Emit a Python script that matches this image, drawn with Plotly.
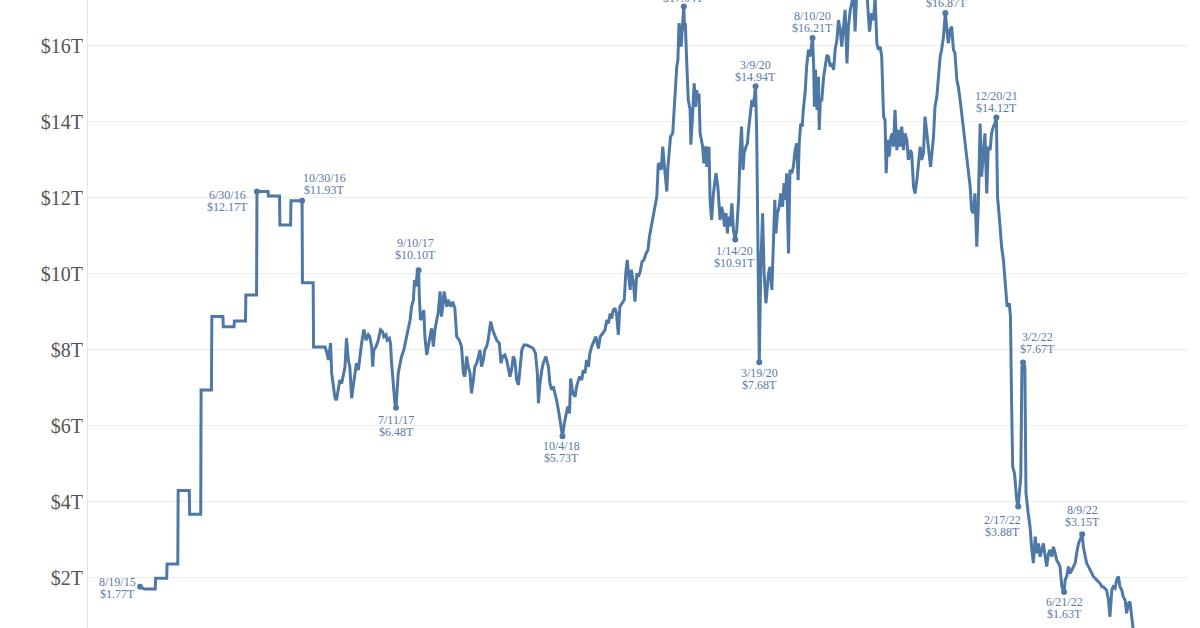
import plotly.graph_objects as go

# ---------------- data (date, value in $ trillions) ----------------
series_2015_16 = [
    ("2015-08-19", 1.77), ("2015-08-31", 1.71), ("2015-09-29", 1.71), ("2015-09-30", 1.99),
    ("2015-10-30", 1.99), ("2015-10-31", 2.37), ("2015-11-29", 2.37), ("2015-11-30", 4.30),
    ("2015-12-30", 4.30), ("2015-12-31", 3.68), ("2016-01-30", 3.68), ("2016-01-31", 6.95),
    ("2016-02-28", 6.95), ("2016-02-29", 8.88), ("2016-03-30", 8.88), ("2016-03-31", 8.61),
    ("2016-04-29", 8.61), ("2016-04-30", 8.76), ("2016-05-30", 8.76), ("2016-05-31", 9.45),
    ("2016-06-29", 9.45), ("2016-06-30", 12.17), ("2016-07-30", 12.17), ("2016-07-31", 12.05),
    ("2016-08-30", 12.05), ("2016-08-31", 11.29), ("2016-09-29", 11.29), ("2016-09-30", 11.93),
    ("2016-10-30", 11.93), ("2016-10-31", 9.77), ("2016-11-29", 9.77), ("2016-11-30", 8.08),
    ("2016-12-31", 8.08),
]

series_2017 = [
    ("2017-01-04", 7.96), ("2017-01-09", 7.74), ("2017-01-15", 8.18), ("2017-01-18", 7.39),
    ("2017-01-22", 7.12), ("2017-01-27", 6.73), ("2017-01-31", 6.68), ("2017-02-05", 7.04),
    ("2017-02-09", 7.21), ("2017-02-14", 7.12), ("2017-02-18", 7.30), ("2017-02-23", 7.56),
    ("2017-02-27", 8.31), ("2017-03-04", 7.74), ("2017-03-08", 7.56), ("2017-03-13", 6.73),
    ("2017-03-17", 7.04), ("2017-03-22", 7.47), ("2017-03-26", 7.65), ("2017-03-31", 7.47),
    ("2017-04-04", 7.83), ("2017-04-09", 8.18), ("2017-04-15", 8.54), ("2017-04-21", 8.26),
    ("2017-04-27", 8.40), ("2017-05-01", 8.35), ("2017-05-06", 8.09), ("2017-05-09", 7.56),
    ("2017-05-12", 8.00), ("2017-05-18", 8.09), ("2017-05-24", 8.26), ("2017-05-30", 8.53),
    ("2017-06-05", 8.48), ("2017-06-08", 8.35), ("2017-06-14", 8.40), ("2017-06-17", 8.26),
    ("2017-06-23", 8.31), ("2017-06-26", 8.18), ("2017-06-29", 7.65), ("2017-07-04", 7.04),
    ("2017-07-08", 6.60), ("2017-07-11", 6.48), ("2017-07-14", 6.86), ("2017-07-17", 7.39),
    ("2017-07-22", 7.65), ("2017-07-26", 7.83), ("2017-08-01", 8.00), ("2017-08-07", 8.26),
    ("2017-08-13", 8.53), ("2017-08-18", 8.79), ("2017-08-22", 9.14), ("2017-08-27", 9.32),
    ("2017-08-30", 9.84), ("2017-09-03", 9.67), ("2017-09-06", 10.02), ("2017-09-10", 10.10),
    ("2017-09-12", 9.40), ("2017-09-15", 8.79), ("2017-09-20", 8.88), ("2017-09-24", 9.05),
    ("2017-09-27", 8.35), ("2017-10-02", 7.87), ("2017-10-06", 8.09), ("2017-10-11", 8.35),
    ("2017-10-15", 8.57), ("2017-10-20", 8.09), ("2017-10-24", 8.53), ("2017-10-29", 8.79),
    ("2017-11-02", 8.97), ("2017-11-07", 9.54), ("2017-11-11", 8.88), ("2017-11-16", 9.32),
    ("2017-11-18", 9.54), ("2017-11-25", 9.14), ("2017-11-29", 9.32), ("2017-12-06", 9.14),
    ("2017-12-11", 9.27), ("2017-12-17", 9.10), ("2017-12-22", 8.35), ("2017-12-29", 8.26),
]

series_2018 = [
    ("2018-01-04", 8.09), ("2018-01-09", 7.39), ("2018-01-13", 7.30), ("2018-01-18", 7.83),
    ("2018-01-22", 7.56), ("2018-01-27", 7.39), ("2018-01-31", 6.86), ("2018-02-05", 7.21),
    ("2018-02-09", 7.56), ("2018-02-14", 7.65), ("2018-02-18", 7.83), ("2018-02-23", 8.00),
    ("2018-02-27", 7.56), ("2018-03-04", 7.74), ("2018-03-08", 8.00), ("2018-03-13", 8.09),
    ("2018-03-17", 8.26), ("2018-03-24", 8.75), ("2018-03-29", 8.53), ("2018-04-04", 8.35),
    ("2018-04-09", 8.26), ("2018-04-16", 8.18), ("2018-04-21", 7.65), ("2018-04-25", 7.83),
    ("2018-05-01", 7.87), ("2018-05-06", 7.74), ("2018-05-10", 7.56), ("2018-05-15", 7.30),
    ("2018-05-19", 7.47), ("2018-05-24", 7.83), ("2018-05-28", 7.74), ("2018-06-02", 7.21),
    ("2018-06-07", 7.08), ("2018-06-11", 7.56), ("2018-06-16", 8.00), ("2018-06-22", 8.13),
    ("2018-06-29", 8.13), ("2018-07-08", 8.09), ("2018-07-17", 8.04), ("2018-07-23", 7.91),
    ("2018-07-28", 7.39), ("2018-07-31", 6.60), ("2018-08-04", 7.12), ("2018-08-09", 7.47),
    ("2018-08-13", 7.65), ("2018-08-20", 7.83), ("2018-08-27", 7.56), ("2018-08-31", 7.12),
    ("2018-09-05", 6.95), ("2018-09-09", 7.04), ("2018-09-14", 6.86), ("2018-09-18", 6.68),
    ("2018-09-23", 6.42), ("2018-09-27", 6.16), ("2018-10-02", 5.90), ("2018-10-04", 5.73),
    ("2018-10-09", 6.07), ("2018-10-13", 6.25), ("2018-10-18", 6.51), ("2018-10-23", 6.33),
    ("2018-10-26", 7.25), ("2018-11-01", 6.86), ("2018-11-07", 6.77), ("2018-11-11", 7.03),
    ("2018-11-19", 7.30), ("2018-11-25", 7.21), ("2018-11-29", 7.47), ("2018-12-04", 7.39),
    ("2018-12-08", 7.74), ("2018-12-13", 7.56), ("2018-12-17", 7.91), ("2018-12-22", 8.09),
    ("2018-12-28", 8.26),
]

series_2019 = [
    ("2019-01-02", 8.35), ("2019-01-09", 8.04), ("2019-01-14", 8.35), ("2019-01-21", 8.44),
    ("2019-01-27", 8.53), ("2019-02-01", 8.79), ("2019-02-05", 8.70), ("2019-02-10", 8.96),
    ("2019-02-14", 8.83), ("2019-02-18", 9.05), ("2019-02-23", 9.10), ("2019-02-27", 8.96),
    ("2019-03-04", 8.40), ("2019-03-08", 9.14), ("2019-03-13", 9.23), ("2019-03-20", 9.32),
    ("2019-03-24", 10.02), ("2019-03-28", 10.37), ("2019-04-01", 9.93), ("2019-04-05", 9.58),
    ("2019-04-08", 10.11), ("2019-04-14", 9.75), ("2019-04-18", 9.27), ("2019-04-23", 10.02),
    ("2019-04-27", 9.93), ("2019-05-02", 10.06), ("2019-05-07", 10.32), ("2019-05-12", 10.37),
    ("2019-05-18", 10.54), ("2019-05-23", 10.63), ("2019-05-27", 10.98), ("2019-06-01", 11.25),
    ("2019-06-06", 11.60), ("2019-06-11", 11.77), ("2019-06-16", 12.04), ("2019-06-20", 12.91),
    ("2019-06-25", 12.87), ("2019-06-28", 12.74), ("2019-07-02", 13.35), ("2019-07-05", 13.00),
    ("2019-07-09", 12.65), ("2019-07-13", 12.17), ("2019-07-16", 12.82), ("2019-07-20", 13.18),
    ("2019-07-23", 13.61), ("2019-07-29", 13.70), ("2019-08-02", 14.40), ("2019-08-05", 15.02),
    ("2019-08-09", 15.46), ("2019-08-12", 15.63), ("2019-08-15", 16.60), ("2019-08-18", 16.42),
    ("2019-08-21", 15.98), ("2019-08-23", 16.33), ("2019-08-28", 17.04), ("2019-08-30", 16.42),
    ("2019-09-01", 16.60), ("2019-09-05", 15.54), ("2019-09-09", 14.58), ("2019-09-14", 14.32),
    ("2019-09-16", 13.40), ("2019-09-20", 14.05), ("2019-09-23", 14.58), ("2019-09-25", 15.02),
    ("2019-09-29", 14.40), ("2019-10-02", 14.84), ("2019-10-04", 14.58), ("2019-10-08", 14.75),
    ("2019-10-11", 13.70), ("2019-10-14", 13.53), ("2019-10-18", 13.35), ("2019-10-21", 12.91),
    ("2019-10-23", 13.26), ("2019-10-27", 13.35), ("2019-10-29", 12.82), ("2019-11-01", 13.09),
    ("2019-11-04", 13.35), ("2019-11-07", 11.95), ("2019-11-11", 11.42), ("2019-11-16", 12.12),
    ("2019-11-20", 12.47), ("2019-11-23", 12.65), ("2019-11-28", 12.30), ("2019-12-01", 11.77),
    ("2019-12-04", 11.42), ("2019-12-08", 11.77), ("2019-12-12", 11.60), ("2019-12-16", 11.25),
    ("2019-12-20", 11.60), ("2019-12-24", 11.07), ("2019-12-26", 11.51), ("2019-12-31", 11.25),
]

series_2020 = [
    ("2020-01-05", 11.86), ("2020-01-09", 11.16), ("2020-01-14", 10.91), ("2020-01-18", 11.16),
    ("2020-01-23", 11.95), ("2020-01-27", 13.18), ("2020-01-31", 13.88), ("2020-02-04", 12.74),
    ("2020-02-07", 13.18), ("2020-02-12", 13.35), ("2020-02-16", 13.44), ("2020-02-18", 13.70),
    ("2020-02-23", 14.23), ("2020-02-28", 14.58), ("2020-03-03", 14.40), ("2020-03-09", 14.94),
    ("2020-03-12", 13.70), ("2020-03-15", 11.68), ("2020-03-19", 7.68), ("2020-03-23", 10.19),
    ("2020-03-28", 11.60), ("2020-04-01", 10.02), ("2020-04-06", 9.23), ("2020-04-13", 10.02),
    ("2020-04-17", 10.19), ("2020-04-22", 9.58), ("2020-04-26", 10.54), ("2020-04-30", 11.95),
    ("2020-05-03", 11.07), ("2020-05-07", 11.60), ("2020-05-12", 11.77), ("2020-05-16", 12.12),
    ("2020-05-21", 11.77), ("2020-05-25", 12.39), ("2020-05-29", 11.95), ("2020-06-01", 12.65),
    ("2020-06-06", 10.54), ("2020-06-10", 12.74), ("2020-06-15", 12.65), ("2020-06-19", 12.82),
    ("2020-06-24", 13.26), ("2020-06-28", 13.44), ("2020-07-02", 12.47), ("2020-07-05", 13.44),
    ("2020-07-09", 13.96), ("2020-07-13", 13.88), ("2020-07-16", 14.32), ("2020-07-21", 14.77),
    ("2020-07-25", 15.46), ("2020-07-30", 15.90), ("2020-08-03", 15.72), ("2020-08-10", 16.21),
    ("2020-08-13", 15.46), ("2020-08-15", 14.40), ("2020-08-18", 15.37), ("2020-08-22", 14.32),
    ("2020-08-26", 15.19), ("2020-08-28", 13.79), ("2020-08-31", 14.58), ("2020-09-04", 14.58),
    ("2020-09-09", 15.19), ("2020-09-13", 15.46), ("2020-09-18", 15.76), ("2020-09-22", 15.72),
    ("2020-09-27", 15.46), ("2020-10-01", 15.54), ("2020-10-06", 15.37), ("2020-10-10", 15.90),
    ("2020-10-15", 16.16), ("2020-10-19", 16.68), ("2020-10-24", 16.42), ("2020-10-28", 15.98),
    ("2020-11-02", 16.51), ("2020-11-06", 16.95), ("2020-11-11", 15.54), ("2020-11-15", 16.51),
    ("2020-11-20", 16.95), ("2020-11-24", 17.12), ("2020-11-29", 17.47), ("2020-12-03", 16.38),
    ("2020-12-08", 17.56), ("2020-12-14", 18.38), ("2020-12-22", 17.90), ("2020-12-29", 17.70),
]

series_2021 = [
    ("2021-01-04", 17.39), ("2021-01-11", 16.38), ("2021-01-17", 16.86), ("2021-01-22", 16.68),
    ("2021-01-26", 17.30), ("2021-01-31", 16.07), ("2021-02-04", 15.90), ("2021-02-09", 15.98),
    ("2021-02-13", 15.72), ("2021-02-18", 14.14), ("2021-02-22", 14.05), ("2021-02-25", 12.65),
    ("2021-03-01", 13.53), ("2021-03-05", 13.09), ("2021-03-10", 13.61), ("2021-03-14", 13.70),
    ("2021-03-17", 13.35), ("2021-03-21", 14.32), ("2021-03-26", 13.26), ("2021-03-30", 13.79),
    ("2021-04-04", 13.35), ("2021-04-08", 13.88), ("2021-04-13", 13.26), ("2021-04-17", 13.70),
    ("2021-04-22", 13.53), ("2021-04-26", 13.00), ("2021-05-01", 13.26), ("2021-05-05", 13.18),
    ("2021-05-10", 12.30), ("2021-05-14", 12.12), ("2021-05-19", 12.47), ("2021-05-23", 12.82),
    ("2021-05-28", 13.35), ("2021-06-01", 13.00), ("2021-06-06", 13.18), ("2021-06-10", 14.14),
    ("2021-06-15", 13.70), ("2021-06-19", 13.26), ("2021-06-25", 12.82), ("2021-07-03", 13.61),
    ("2021-07-07", 14.40), ("2021-07-12", 14.67), ("2021-07-16", 15.19), ("2021-07-21", 15.72),
    ("2021-07-25", 15.90), ("2021-07-30", 16.25), ("2021-08-04", 16.87), ("2021-08-08", 16.42),
    ("2021-08-12", 16.07), ("2021-08-17", 16.42), ("2021-08-21", 16.51), ("2021-08-26", 15.90),
    ("2021-08-30", 15.81), ("2021-09-04", 15.11), ("2021-09-08", 14.93), ("2021-09-13", 14.58),
    ("2021-09-17", 14.23), ("2021-09-22", 13.88), ("2021-09-26", 13.44), ("2021-10-01", 13.00),
    ("2021-10-05", 12.65), ("2021-10-10", 12.30), ("2021-10-14", 11.68), ("2021-10-19", 11.60),
    ("2021-10-23", 12.12), ("2021-10-28", 10.72), ("2021-11-01", 11.77), ("2021-11-06", 13.96),
    ("2021-11-10", 12.56), ("2021-11-15", 13.26), ("2021-11-19", 13.70), ("2021-11-24", 12.12),
    ("2021-11-28", 13.35), ("2021-12-03", 13.26), ("2021-12-07", 13.70), ("2021-12-12", 13.88),
    ("2021-12-16", 13.96), ("2021-12-20", 14.12), ("2021-12-23", 12.04), ("2021-12-30", 11.25),
]

series_2022 = [
    ("2022-01-03", 10.72), ("2022-01-08", 10.37), ("2022-01-15", 9.32), ("2022-01-18", 9.14),
    ("2022-01-24", 9.23), ("2022-01-27", 8.88), ("2022-01-30", 6.68), ("2022-02-02", 4.93),
    ("2022-02-07", 4.75), ("2022-02-10", 4.23), ("2022-02-13", 4.05), ("2022-02-17", 3.88),
    ("2022-02-20", 4.32), ("2022-02-24", 4.67), ("2022-02-27", 7.56), ("2022-03-02", 7.67),
    ("2022-03-07", 7.56), ("2022-03-10", 4.23), ("2022-03-16", 3.70), ("2022-03-21", 3.35),
    ("2022-03-25", 2.82), ("2022-03-30", 2.39), ("2022-04-04", 3.09), ("2022-04-08", 2.65),
    ("2022-04-13", 2.91), ("2022-04-17", 2.56), ("2022-04-22", 2.74), ("2022-04-26", 2.91),
    ("2022-05-01", 2.56), ("2022-05-05", 2.30), ("2022-05-10", 2.65), ("2022-05-14", 2.74),
    ("2022-05-19", 2.56), ("2022-05-23", 2.82), ("2022-05-28", 2.65), ("2022-06-01", 2.47),
    ("2022-06-06", 2.39), ("2022-06-10", 2.30), ("2022-06-15", 1.77), ("2022-06-21", 1.63),
    ("2022-06-24", 1.95), ("2022-06-28", 2.04), ("2022-07-03", 2.30), ("2022-07-07", 2.12),
    ("2022-07-12", 2.21), ("2022-07-16", 2.30), ("2022-07-21", 2.39), ("2022-07-25", 2.65),
    ("2022-07-30", 2.91), ("2022-08-03", 3.00), ("2022-08-09", 3.15), ("2022-08-12", 2.82),
    ("2022-08-17", 2.56), ("2022-08-21", 2.39), ("2022-08-26", 2.30), ("2022-08-30", 2.21),
    ("2022-09-04", 2.12), ("2022-09-08", 2.04), ("2022-09-17", 1.95), ("2022-09-26", 1.86),
    ("2022-10-01", 1.77), ("2022-10-05", 1.77), ("2022-10-14", 1.68), ("2022-10-19", 1.42),
    ("2022-10-23", 0.98), ("2022-10-28", 1.68), ("2022-11-01", 1.77), ("2022-11-06", 1.73),
    ("2022-11-10", 1.95), ("2022-11-15", 2.04), ("2022-11-19", 1.77), ("2022-11-24", 1.68),
    ("2022-11-28", 1.51), ("2022-12-03", 1.42), ("2022-12-07", 1.07), ("2022-12-12", 1.33),
    ("2022-12-16", 1.38), ("2022-12-21", 0.89), ("2022-12-25", 0.63), ("2022-12-29", 0.37),
]

# labelled points
label_dates = ["2015-08-19", "2016-06-30", "2016-10-30", "2017-07-11", "2017-09-10",
               "2018-10-04", "2019-08-28", "2020-01-14", "2020-03-09", "2020-03-19",
               "2020-08-10", "2021-08-04", "2021-12-20", "2022-02-17", "2022-03-02",
               "2022-06-21", "2022-08-09"]
label_names = ["8/19/15", "6/30/16", "10/30/16", "7/11/17", "9/10/17",
               "10/4/18", "8/28/19", "1/14/20", "3/9/20", "3/19/20",
               "8/10/20", "8/4/21", "12/20/21", "2/17/22", "3/2/22",
               "6/21/22", "8/9/22"]
label_values = [1.77, 12.17, 11.93, 6.48, 10.10,
                5.73, 17.04, 10.91, 14.94, 7.68,
                16.21, 16.87, 14.12, 3.88, 7.67,
                1.63, 3.15]

# y-axis ticks
tick_values = [2, 4, 6, 8, 10, 12, 14, 16]
tick_labels = ["$2T", "$4T", "$6T", "$8T", "$10T", "$12T", "$14T", "$16T"]

# ---------------- styling ----------------
LINE = "#4e78a6"
LABEL_COLOR = "#5a7aa6"
SERIF = "Liberation Serif, Georgia, serif"
# label block centre offsets in px (dx right, dy down) relative to point
label_offsets = [(-23, 1), (-29, 9), (22, -17), (0, 18), (-3, -21),
                 (-1, 16), (0, -14), (-1, 18), (0, -15), (0, 16.5),
                 (0, -16), (1, -16), (0, -15), (-16, 19), (14, -20),
                 (0, 16), (0, -18)]
LINE_GAP = 6

segments = [series_2015_16, series_2017, series_2018, series_2019,
            series_2020, series_2021, series_2022]
dates = [d for seg in segments for d, _ in seg]
values = [v for seg in segments for _, v in seg]

fig = go.Figure()
fig.add_trace(go.Scatter(x=dates, y=values, mode="lines",
                         line=dict(color=LINE, width=3), hoverinfo="skip"))
fig.add_trace(go.Scatter(x=label_dates, y=label_values, mode="markers",
                         marker=dict(color=LINE, size=6), hoverinfo="skip"))

for d, name, v, (dx, dy) in zip(label_dates, label_names, label_values, label_offsets):
    for txt, off in ((name, -LINE_GAP), ("$%.2fT" % v, LINE_GAP)):
        fig.add_annotation(x=d, y=v, text=txt, showarrow=False,
                           xanchor="center", yanchor="middle", borderpad=0,
                           xshift=dx, yshift=-(dy + off),
                           font=dict(family=SERIF, size=12, color=LABEL_COLOR))

fig.update_layout(
    width=1200, height=628,
    margin=dict(l=88, r=12, t=0, b=0),
    plot_bgcolor="white", paper_bgcolor="white",
    showlegend=False,
    xaxis=dict(type="date", range=["2015-03-31 06:00", "2023-05-22"],
               showgrid=False, showticklabels=False, zeroline=False,
               showline=False, ticks=""),
    yaxis=dict(range=[0.684, 17.21], tickvals=tick_values, ticktext=tick_labels,
               tickfont=dict(family=SERIF, size=20, color="#555555"),
               showgrid=True, gridcolor="#ececec", gridwidth=1,
               zeroline=False, showline=True, linecolor="#e6e6e6", linewidth=1,
               ticks="", ticklabelstandoff=0),
)

fig.write_html("out.html",
               config={"displayModeBar": False},
               post_script="document.body.style.margin='0';document.body.style.overflow='hidden';")
